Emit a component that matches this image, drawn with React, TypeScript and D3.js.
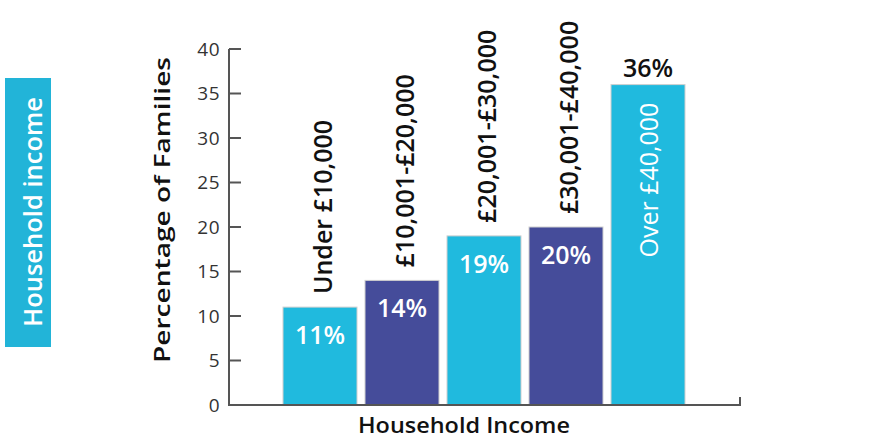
import React from "react";
import * as d3 from "d3";

const categories = ["Under £10,000", "£10,001-£20,000", "£20,001-£30,000", "£30,001-£40,000", "Over £40,000"];
const values = [11, 14, 19, 20, 36];
const barColors = ["#20BADE", "#454C9A", "#20BADE", "#454C9A", "#20BADE"];
const yTicks = [0, 5, 10, 15, 20, 25, 30, 35, 40];
const sideLabel = "Household income";
const yTitle = "Percentage of Families";
const xTitle = "Household Income";

const W = 882;
const H = 440;
const FONT = "'Open Sans', 'DejaVu Sans', sans-serif";

export default function App() {
  const x = d3.scaleBand<string>().domain(categories).range([283, 685]).paddingInner(8 / 82).paddingOuter(0);
  const y = d3.scaleLinear().domain([0, 40]).range([405, 49]);
  const axisColor = "#555";
  const LF = 25;
  return (
    <svg width={W} height={H} style={{ position: "absolute", left: 0, top: 0 }}>
      <rect x={5} y={78} width={46} height={269} fill="#22B4D8" />
      <text transform={`translate(42,212) rotate(-90)`} textAnchor="middle" fill="#fff" fontFamily={FONT} fontSize={25} fontWeight={600} textLength={230} lengthAdjust="spacingAndGlyphs">
        {sideLabel}
      </text>

      {/* y axis */}
      <line x1={229} x2={229} y1={y(40)} y2={y(0)} stroke={axisColor} strokeWidth={2} />
      {yTicks.map((t) => (
        <g key={t}>
          <line x1={229} x2={241} y1={y(t)} y2={y(t)} stroke={axisColor} strokeWidth={2} />
          <text x={220} y={y(t)} dy="0.36em" textAnchor="end" fontFamily={FONT} fontSize={19} fill="#333" letterSpacing={0.5}>
            {t}
          </text>
        </g>
      ))}
      <text transform={`translate(170,210) rotate(-90)`} textAnchor="middle" fontFamily={FONT} fontSize={21} fontWeight={600} fill="#111" textLength={306} lengthAdjust="spacingAndGlyphs">
        {yTitle}
      </text>

      {/* bars */}
      {categories.map((c, i) => {
        const bx = x(c)!;
        const bw = x.bandwidth();
        const cx = bx + bw / 2;
        const top = y(values[i]);
        const last = i === categories.length - 1;
        return (
          <g key={c}>
            <rect x={bx} y={top} width={bw} height={y(0) - top} fill={barColors[i]} stroke="#cfcfcf" strokeWidth={1} />
            {!last && (
              <text transform={`translate(${cx + 12},${top - 13}) rotate(-90)`} fontFamily={FONT} fontSize={LF} fontWeight={600} fill="#111">
                {c}
              </text>
            )}
            {last && (
              <text transform={`translate(${cx + 10},${top + 18}) rotate(-90)`} textAnchor="end" fontFamily={FONT} fontSize={LF} fontWeight={500} fill="#fff">
                {c}
              </text>
            )}
            {!last ? (
              <text x={cx} y={top + 37} textAnchor="middle" fontFamily={FONT} fontSize={LF} fontWeight={600} fill="#fff">
                {values[i]}%
              </text>
            ) : (
              <text x={cx} y={top - 8} textAnchor="middle" fontFamily={FONT} fontSize={LF} fontWeight={600} fill="#111">
                {values[i]}%
              </text>
            )}
          </g>
        );
      })}

      {/* x axis */}
      <line x1={228} x2={741} y1={y(0)} y2={y(0)} stroke={axisColor} strokeWidth={2} />
      <line x1={740} x2={740} y1={y(0)} y2={y(0) - 8} stroke={axisColor} strokeWidth={2} />
      <text x={464} y={433} textAnchor="middle" fontFamily={FONT} fontSize={22} fontWeight={600} fill="#111" textLength={212} lengthAdjust="spacingAndGlyphs">
        {xTitle}
      </text>
    </svg>
  );
}
